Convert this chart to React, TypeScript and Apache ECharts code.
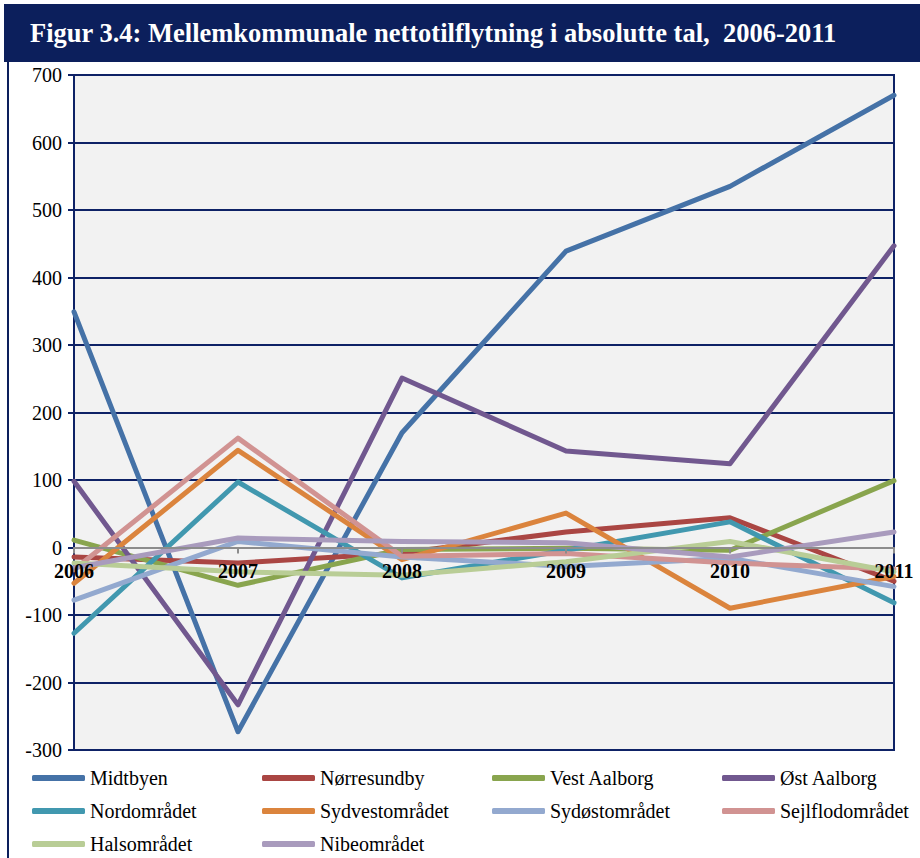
import React, { useEffect, useRef } from "react";
import * as echarts from "echarts";

const years = ["2006", "2007", "2008", "2009", "2010", "2011"];
const seriesNames = [
  "Midtbyen",
  "Nørresundby",
  "Vest Aalborg",
  "Øst Aalborg",
  "Nordområdet",
  "Sydvestområdet",
  "Sydøstområdet",
  "Sejlflodområdet",
  "Halsområdet",
  "Nibeområdet",
];
const midtbyen = [349, -273, 170, 439, 535, 670];
const noerresundby = [-14, -23, -8, 23, 44, -50];
const vestAalborg = [11, -56, -3, -1, -4, 99];
const oestAalborg = [98, -233, 251, 143, 124, 447];
const nordomraadet = [-127, 97, -45, -4, 38, -82];
const sydvestomraadet = [-53, 144, -18, 51, -90, -43];
const sydoestomraadet = [-78, 9, -14, -28, -16, -58];
const sejlflodomraadet = [-33, 162, -13, -9, -23, -32];
const halsomraadet = [-23, -36, -41, -21, 9, -36];
const nibeomraadet = [-30, 14, 9, 7, -14, 23];
const seriesValues = [
  midtbyen,
  noerresundby,
  vestAalborg,
  oestAalborg,
  nordomraadet,
  sydvestomraadet,
  sydoestomraadet,
  sejlflodomraadet,
  halsomraadet,
  nibeomraadet,
];
const colors = [
  "#4572A7",
  "#AA4643",
  "#89A54E",
  "#71588F",
  "#4198AF",
  "#DB843D",
  "#93A9CF",
  "#D19392",
  "#B9CD96",
  "#A99BBD",
];
const legendColumns = [
  ["Midtbyen", "Nordområdet", "Halsområdet"],
  ["Nørresundby", "Sydvestområdet", "Nibeområdet"],
  ["Vest Aalborg", "Sydøstområdet"],
  ["Øst Aalborg", "Sejlflodområdet"],
];
const legendLefts = [32, 262, 492, 722];
const yMin = -300;
const yMax = 700;
const yStep = 100;

const SERIF = "Liberation Serif";
const NAVY = "#0e2266";

const GRID_TOP = 75;
const GRID_BOTTOM = 108;
const CHART_H = 858;

export default function App() {
  const ref = useRef<HTMLDivElement>(null);
  useEffect(() => {
    document.body.style.margin = "0";
    if (!ref.current) return;
    const chart = echarts.init(ref.current, null, { renderer: "svg" });
    const plotH = CHART_H - GRID_TOP - GRID_BOTTOM;
    const zeroOffset = -(plotH * (0 - yMin)) / (yMax - yMin);
    const option: any = {
      animation: false,
      color: colors,
      textStyle: { fontFamily: SERIF },
      graphic: [
        {
          type: "rect",
          shape: { x: 4, y: 4, width: 916, height: 58 },
          style: { fill: "#0c1f5c" },
          z: 10,
        },
        {
          type: "text",
          x: 30,
          y: 33,
          style: {
            text: "Figur 3.4: Mellemkommunale nettotilflytning i absolutte tal,  2006-2011",
            fill: "#ffffff",
            fontFamily: SERIF,
            fontSize: 26.5,
            fontWeight: "bold",
            verticalAlign: "middle",
          },
          z: 11,
        },
        {
          type: "line",
          shape: { x1: 8, y1: 62, x2: 8, y2: 858 },
          style: { stroke: "#0c1f5c", lineWidth: 2 },
          z: 10,
        },
      ],
      grid: {
        left: 74,
        right: 26,
        top: GRID_TOP,
        bottom: GRID_BOTTOM,
        show: true,
        backgroundColor: "#f2f2f2",
        borderColor: NAVY,
        borderWidth: 2,
      },
      legend: legendColumns.map((col, i) => ({
        data: col,
        orient: "vertical",
        left: legendLefts[i],
        top: 767,
        padding: 0,
        itemWidth: 53,
        itemHeight: 6,
        itemGap: 11,
        icon: "roundRect",
        textStyle: {
          fontFamily: SERIF,
          fontSize: 20,
          color: "#000",
          lineHeight: 22,
        },
      })),
      xAxis: {
        type: "category",
        data: years,
        boundaryGap: false,
        offset: zeroOffset,
        z: 10,
        axisLine: { onZero: false, lineStyle: { color: "#8c8c8c", width: 2 } },
        axisTick: { show: true, length: 6, lineStyle: { color: "#8c8c8c", width: 2 } },
        axisLabel: {
          interval: 0,
          margin: 13,
          fontFamily: SERIF,
          fontSize: 20,
          fontWeight: "bold",
          color: "#000",
        },
        splitLine: { show: false },
      },
      yAxis: {
        type: "value",
        min: yMin,
        max: yMax,
        interval: yStep,
        axisLine: { show: true, lineStyle: { color: NAVY, width: 2 } },
        axisTick: { show: true, length: 6, lineStyle: { color: NAVY, width: 2 } },
        axisLabel: {
          margin: 12,
          fontFamily: SERIF,
          fontSize: 20,
          color: "#000",
        },
        splitLine: { show: true, lineStyle: { color: NAVY, width: 2 } },
      },
      series: seriesNames.map((name, i) => ({
        name,
        type: "line",
        data: seriesValues[i],
        showSymbol: false,
        symbol: "none",
        lineStyle: { width: 5, color: colors[i], join: "round", cap: "round" },
        itemStyle: { color: colors[i] },
      })),
    };
    chart.setOption(option);
    return () => chart.dispose();
  }, []);
  return <div ref={ref} style={{ width: 920, height: 858 }} />;
}
